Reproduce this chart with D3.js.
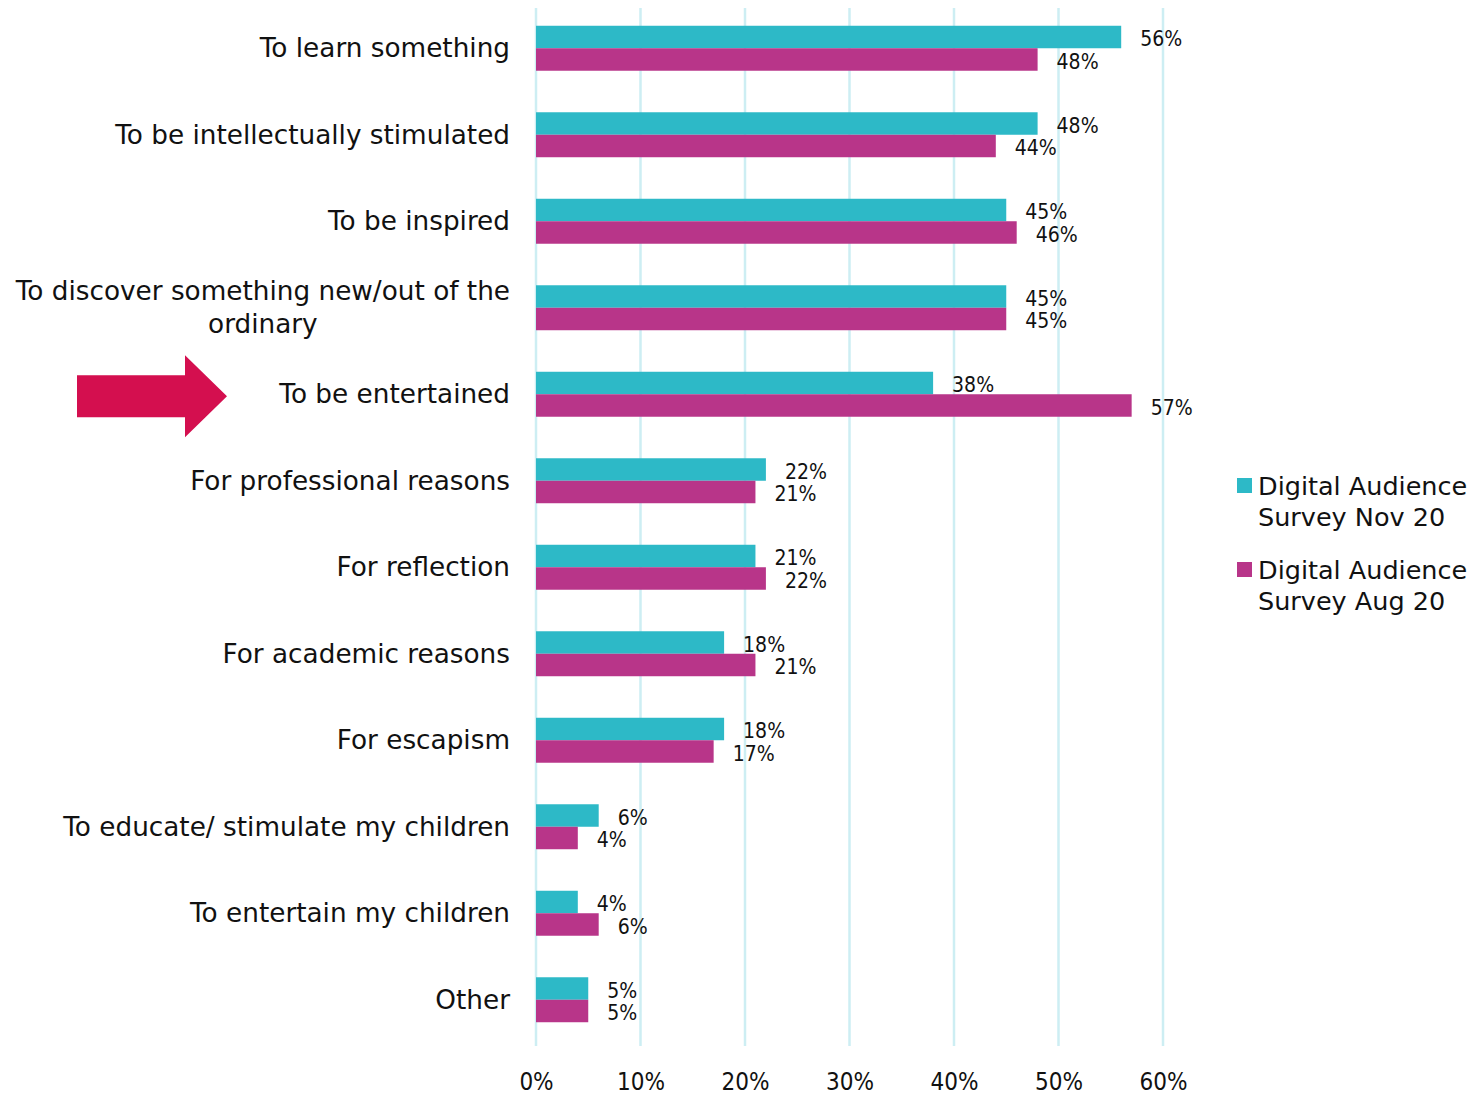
<!DOCTYPE html>
<html>
<head>
<meta charset="utf-8">
<script src="https://cdn.jsdelivr.net/npm/d3@7"></script>
<style>
  html, body { margin: 0; padding: 0; background: #fff; }
  svg { display: block; }
  text { font-family: "DejaVu Sans", sans-serif; fill: #111; }
  text.narrow { font-family: "DejaVu Sans Condensed", "DejaVu Sans", sans-serif; font-stretch: condensed; }
</style>
</head>
<body>
<svg id="chart" width="1476" height="1095"></svg>
<script>
// Reasons for visiting, one entry per row (line breaks mark wrapped labels)
const categories = [
  "To learn something",
  "To be intellectually stimulated",
  "To be inspired",
  "To discover something new/out of the\nordinary",
  "To be entertained",
  "For professional reasons",
  "For reflection",
  "For academic reasons",
  "For escapism",
  "To educate/ stimulate my children",
  "To entertain my children",
  "Other"
];
const seriesNames = ["Digital Audience Survey Nov 20", "Digital Audience Survey Aug 20"];
const novValues = [56, 48, 45, 45, 38, 22, 21, 18, 18, 6, 4, 5];
const augValues = [48, 44, 46, 45, 57, 21, 22, 21, 17, 4, 6, 5];
const xTicks = [0, 10, 20, 30, 40, 50, 60];
const highlighted = "To be entertained";

const colors = ["#2db9c7", "#b83589"];
const seriesValues = [novValues, augValues];

const svg = d3.select("#chart");

const x = d3.scaleLinear().domain([0, 60]).range([536, 1163]);
const y = d3.scaleBand().domain(categories).range([5, 1043])
  .paddingInner(0.48).paddingOuter(0.24);
const ySub = d3.scaleBand().domain(d3.range(seriesNames.length)).range([0, y.bandwidth()]);

// vertical gridlines
const grid = svg.append("g");
grid.selectAll("line").data(xTicks).join("line")
  .attr("x1", d => x(d)).attr("x2", d => x(d))
  .attr("y1", 8).attr("y2", 1046)
  .attr("stroke", "#cdeef3").attr("stroke-width", 2.5);

// x axis labels
const xAxis = d3.axisBottom(x).tickValues(xTicks).tickFormat(d => d + "%").tickSize(0).tickPadding(0);
const axG = svg.append("g").attr("transform", "translate(0,1068)").call(xAxis);
axG.select(".domain").remove();
axG.selectAll("text").attr("class", "narrow").attr("font-size", 24).attr("dy", "0.9em")
  .attr("font-family", null).style("fill", "#111");

// bars and value labels
const rows = svg.append("g").selectAll("g").data(categories).join("g")
  .attr("transform", d => `translate(0,${y(d)})`);

seriesNames.forEach((name, si) => {
  rows.append("rect")
    .attr("x", x(0))
    .attr("y", ySub(si))
    .attr("width", (d, i) => x(seriesValues[si][i]) - x(0))
    .attr("height", ySub.bandwidth())
    .attr("fill", colors[si]);
  rows.append("text")
    .attr("class", "narrow")
    .attr("x", (d, i) => x(seriesValues[si][i]) + 19)
    .attr("y", ySub(si) + ySub.bandwidth() / 2 + 2)
    .attr("dy", "0.35em")
    .attr("font-size", 21)
    .text((d, i) => seriesValues[si][i] + "%");
});

// category labels: right-aligned block, lines centred within it
const labelRight = 510;
rows.each(function(d) {
  const lines = d.split("\n");
  const g = d3.select(this);
  const cy = y.bandwidth() / 2;
  const lh = 33;
  const t = g.append("text").attr("font-size", 26.3).attr("text-anchor", "middle");
  lines.forEach((ln, k) => {
    t.append("tspan").attr("x", 0)
      .attr("y", cy + (k - (lines.length - 1) / 2) * lh).attr("dy", "0.35em").text(ln);
  });
  const w = d3.max(t.selectAll("tspan").nodes(), n => n.getComputedTextLength());
  t.selectAll("tspan").attr("x", labelRight - w / 2);
});

// arrow pointing at the highlighted row
const ay = y(highlighted) + y.bandwidth() / 2 + 2;
svg.append("path")
  .attr("d", `M77,${ay - 21} L185,${ay - 21} L185,${ay - 41} L227,${ay} L185,${ay + 41} L185,${ay + 21} L77,${ay + 21} Z`)
  .attr("fill", "#d40f4f");

// legend
const legend = svg.append("g").attr("transform", "translate(1237,478)");
seriesNames.forEach((name, i) => {
  const g = legend.append("g").attr("transform", `translate(0,${i * 84})`);
  g.append("rect").attr("width", 15).attr("height", 15).attr("fill", colors[i]);
  const parts = ["Digital Audience", name.replace("Digital Audience ", "")];
  const t = g.append("text").attr("x", 21).attr("font-size", 25.5);
  parts.forEach((p, k) => {
    t.append("tspan").attr("x", 21).attr("y", 17 + k * 31).text(p);
  });
});
</script>
</body>
</html>
